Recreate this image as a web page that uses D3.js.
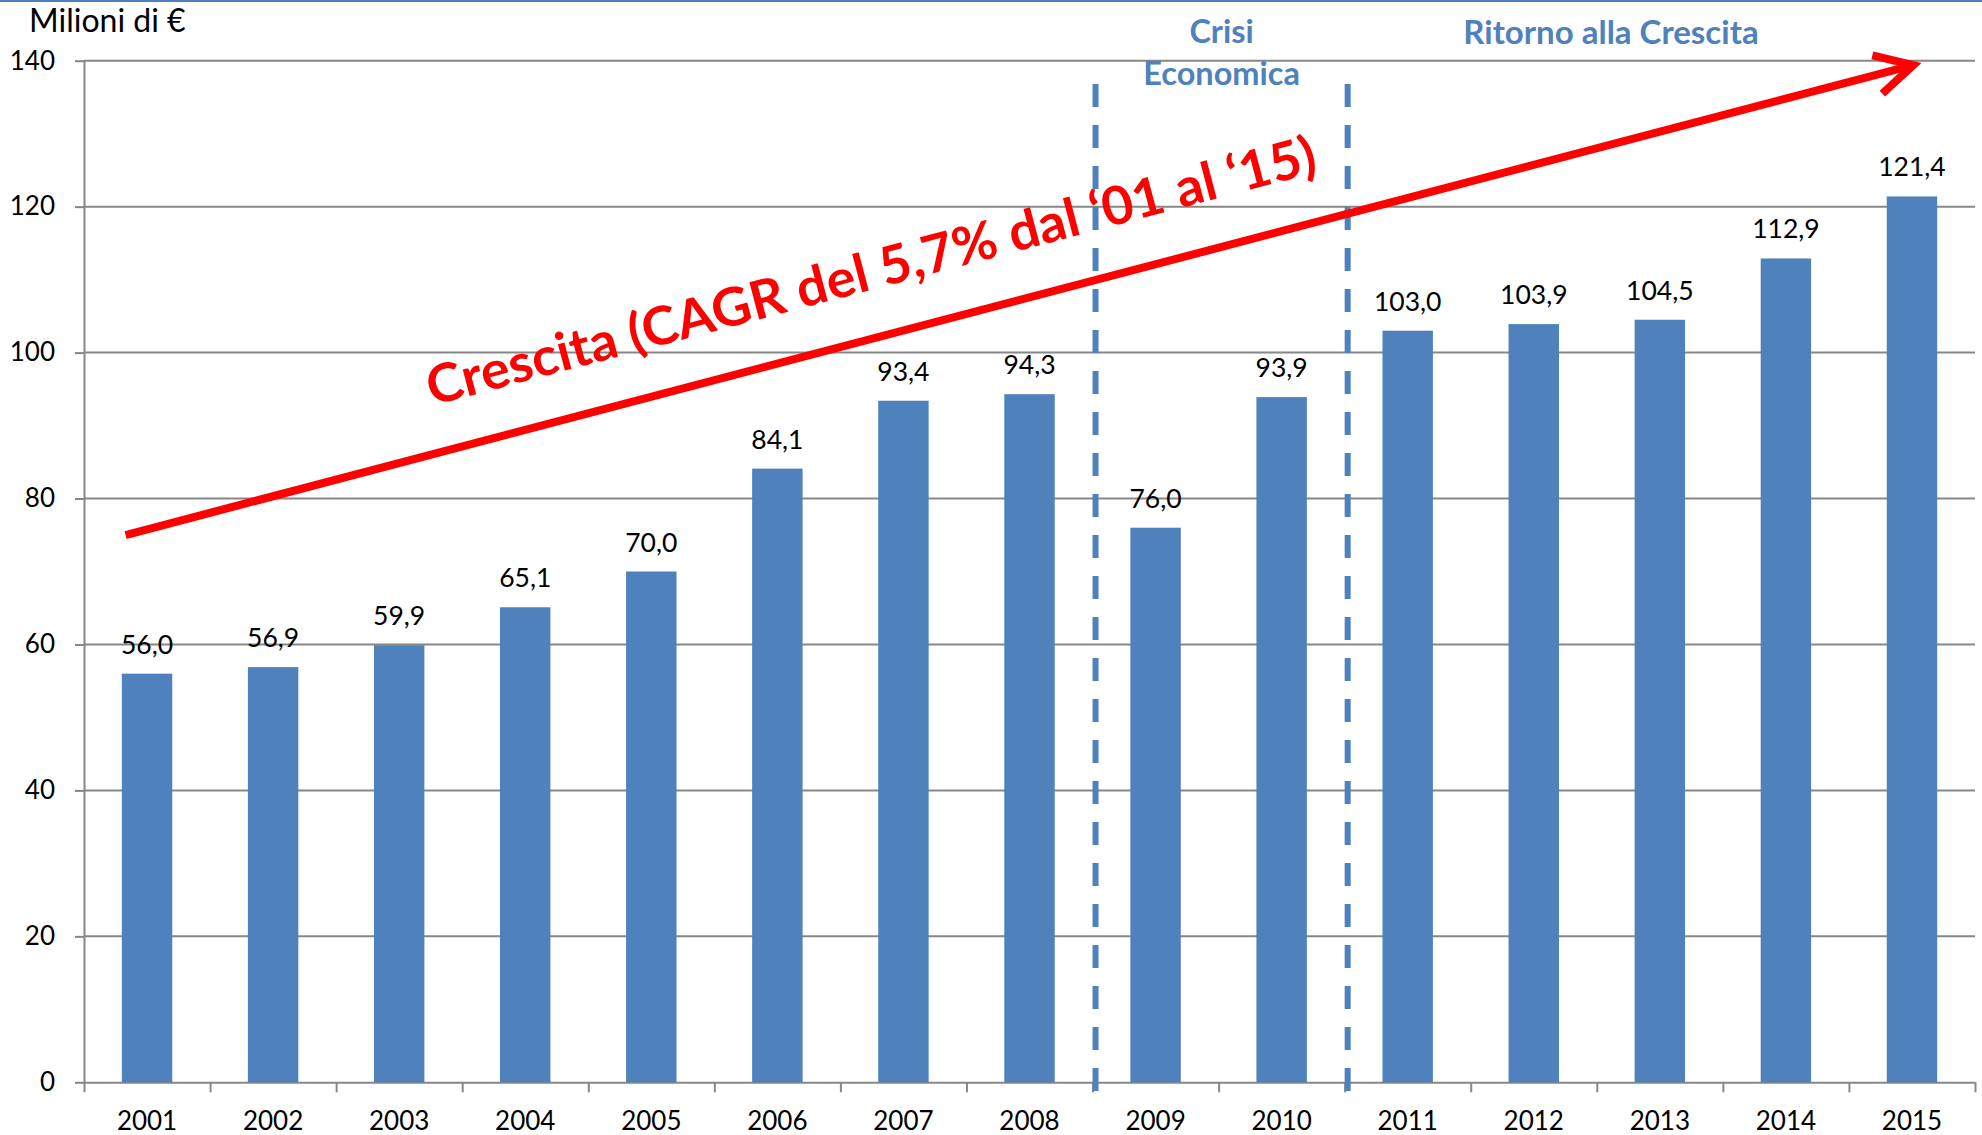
<!DOCTYPE html>
<html>
<head>
<meta charset="utf-8">
<script src="https://cdn.jsdelivr.net/npm/d3@7"></script>
<style>
  body { margin: 0; background: #fff; }
  text { font-family: Lato, "Open Sans", sans-serif; }
</style>
</head>
<body>
<div id="chart"></div>
<script>
// dati
const years = ['2001', '2002', '2003', '2004', '2005', '2006', '2007', '2008',
  '2009', '2010', '2011', '2012', '2013', '2014', '2015'];
const values = [56.0, 56.9, 59.9, 65.1, 70.0, 84.1, 93.4, 94.3,
  76.0, 93.9, 103.0, 103.9, 104.5, 112.9, 121.4];
const yTicks = [0, 20, 40, 60, 80, 100, 120, 140];
const unitLabel = 'Milioni di €';
const trendLabel = 'Crescita (CAGR del 5,7% dal ‘01 al ‘15)';
const crisisLabel = ['Crisi', 'Economica'];
const recoveryLabel = 'Ritorno alla Crescita';
// linee tratteggiate tra le fasi (indice di categoria)
const phaseBreaks = [8, 10];
// freccia: [indice categoria, valore]
const arrowFrom = [0.33, 75];
const arrowTo = [14.51, 139.4];

const W = 1982;
const H = 1135;
const blue = '#4f81bd';
const red = '#ff0000';
const grey = '#878787';
const plotLeft = 84;
const plotRight = 1975;
const plotTop = 60.7;
const plotBottom = 1082.3;

const svg = d3.select('#chart').append('svg')
  .attr('width', W)
  .attr('height', H);

// riga blu in alto
svg.append('rect')
  .attr('x', 0).attr('y', 0)
  .attr('width', W).attr('height', 2)
  .attr('fill', blue);

const x = d3.scaleBand()
  .domain(years)
  .range([plotLeft, plotRight])
  .paddingInner(0.6)
  .paddingOuter(0.3);

// scala continua sugli indici per ticks e annotazioni
const xi = d3.scaleLinear()
  .domain([0, years.length])
  .range([plotLeft, plotRight]);

const y = d3.scaleLinear()
  .domain([0, 140])
  .range([plotBottom, plotTop]);

const fmt = d3.formatLocale({ decimal: ',', thousands: '.', grouping: [3], currency: ['', '€'] }).format('.1f');

// griglia
svg.append('g')
  .selectAll('line')
  .data(yTicks.slice(1))
  .join('line')
  .attr('x1', plotLeft)
  .attr('x2', plotRight)
  .attr('y1', d => y(d))
  .attr('y2', d => y(d))
  .attr('stroke', grey)
  .attr('stroke-width', 2);

// asse y
const axisY = svg.append('g')
  .attr('transform', 'translate(' + plotLeft + ',0)')
  .call(d3.axisLeft(y).tickValues(yTicks).tickSize(9).tickSizeOuter(0).tickPadding(20));
axisY.select('.domain').attr('stroke', grey).attr('stroke-width', 2);
axisY.selectAll('.tick line').attr('stroke', grey).attr('stroke-width', 2);
axisY.selectAll('.tick text')
  .attr('fill', '#000')
  .style('font-size', '26px');

// asse x: ticks ai confini delle categorie
const axisXTicks = svg.append('g')
  .attr('transform', 'translate(0,' + plotBottom + ')')
  .call(d3.axisBottom(xi).tickValues(d3.range(years.length + 1)).tickSize(10).tickSizeOuter(0).tickFormat(''));
axisXTicks.select('.domain').attr('stroke', grey).attr('stroke-width', 2);
axisXTicks.selectAll('.tick line').attr('stroke', grey).attr('stroke-width', 2);

// etichette anni
const axisXLabels = svg.append('g')
  .attr('transform', 'translate(0,' + plotBottom + ')')
  .call(d3.axisBottom(x).tickSize(0).tickPadding(29));
axisXLabels.select('.domain').remove();
axisXLabels.selectAll('.tick text')
  .attr('fill', '#000')
  .style('font-size', '26px');

// barre
svg.append('g')
  .selectAll('rect')
  .data(values)
  .join('rect')
  .attr('x', (d, i) => x(years[i]))
  .attr('y', d => y(d))
  .attr('width', x.bandwidth())
  .attr('height', d => y(0) - y(d))
  .attr('fill', blue);

// valori sopra le barre
svg.append('g')
  .selectAll('text')
  .data(values)
  .join('text')
  .attr('x', (d, i) => x(years[i]) + x.bandwidth() / 2)
  .attr('y', d => y(d) - 20)
  .attr('text-anchor', 'middle')
  .style('font-size', '26.5px')
  .attr('fill', '#000')
  .text(d => fmt(d));

// linee tratteggiate delle fasi
svg.append('g')
  .selectAll('line')
  .data(phaseBreaks)
  .join('line')
  .attr('x1', d => xi(d) + 3)
  .attr('x2', d => xi(d) + 3)
  .attr('y1', y(136.8))
  .attr('y2', plotBottom + 13)
  .attr('stroke', blue)
  .attr('stroke-width', 6)
  .attr('stroke-dasharray', '23 18');

// titoli delle fasi
const crisisX = (xi(phaseBreaks[0]) + xi(phaseBreaks[1])) / 2 + 3;
svg.append('text')
  .attr('x', crisisX)
  .attr('text-anchor', 'middle')
  .attr('fill', blue)
  .style('font-size', '32.5px')
  .style('font-weight', 'bold')
  .selectAll('tspan')
  .data(crisisLabel)
  .join('tspan')
  .attr('x', crisisX)
  .attr('y', (d, i) => 43 + i * 42)
  .text(d => d);

svg.append('text')
  .attr('x', 1611)
  .attr('y', 44)
  .attr('text-anchor', 'middle')
  .attr('fill', blue)
  .style('font-size', '33px')
  .style('font-weight', 'bold')
  .text(recoveryLabel);

// unità di misura
svg.append('text')
  .attr('x', 29)
  .attr('y', 32)
  .attr('fill', '#000')
  .style('font-size', '32px')
  .text(unitLabel);

// freccia rossa
const x0 = xi(arrowFrom[0]);
const y0 = y(arrowFrom[1]);
const x1 = xi(arrowTo[0]);
const y1 = y(arrowTo[1]);
const ang = Math.atan2(y1 - y0, x1 - x0);
const armLen = 42;
const armAng = 28 * Math.PI / 180;

svg.append('line')
  .attr('x1', x0).attr('y1', y0)
  .attr('x2', x1 - 3 * Math.cos(ang)).attr('y2', y1 - 3 * Math.sin(ang))
  .attr('stroke', red)
  .attr('stroke-width', 8);

svg.append('path')
  .attr('d', 'M' + (x1 - armLen * Math.cos(ang - armAng)) + ',' + (y1 - armLen * Math.sin(ang - armAng)) +
    'L' + x1 + ',' + y1 +
    'L' + (x1 - armLen * Math.cos(ang + armAng)) + ',' + (y1 - armLen * Math.sin(ang + armAng)))
  .attr('fill', 'none')
  .attr('stroke', red)
  .attr('stroke-width', 8)
  .attr('stroke-linejoin', 'miter');

// testo della crescita
svg.append('text')
  .attr('transform', 'translate(' + xi(2.76) + ',' + y(92.7) + ') rotate(-14.8)')
  .attr('fill', red)
  .style('font-size', '53px')
  .style('font-weight', 'bold')
  .attr('textLength', 918)
  .attr('lengthAdjust', 'spacingAndGlyphs')
  .text(trendLabel);
</script>
</body>
</html>
